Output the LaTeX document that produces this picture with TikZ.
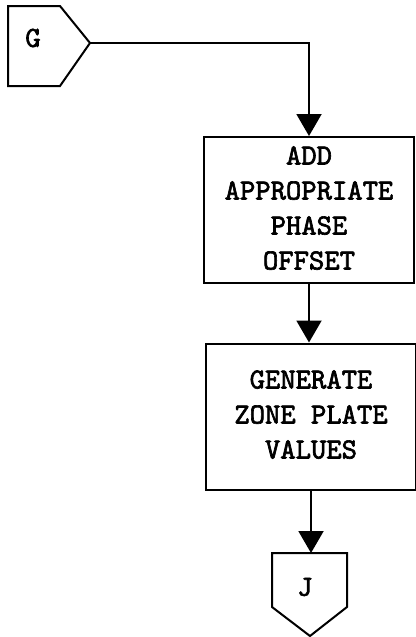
\documentclass[tikz,border=0pt]{standalone}
\usepackage{fontspec}
\newfontfamily\flowtt[FakeBold=2.2]{lmmono10-regular.otf}
\usetikzlibrary{arrows.meta}
\tikzset{
  flowbox/.style={draw,line width=1pt,minimum width=105pt,minimum height=73pt,inner sep=0pt,
    font=\fontsize{14.6}{17.5}\selectfont\flowtt},
  flowarrow/.style={line width=1pt,-{Triangle[width=12.5pt,length=11pt]}},
  pagelink/.style={line width=1pt,line join=miter},
  linklabel/.style={font=\fontsize{14.6}{17.5}\selectfont\flowtt}
}
\begin{document}
\begin{tikzpicture}[x=0.5pt,y=-0.5pt]
\useasboundingbox (0,0) rectangle (416,637);

% entry connector G
\draw[pagelink] (8,6) -- (60,6) -- (90,43) coordinate (gtip) -- (60,86) -- (8,86) -- cycle;
\node[linklabel] (g) at (33,38) {G};

% processing steps
\node[flowbox] (add) at (309,210)
  {\begin{tabular}{@{}c@{}}ADD\\APPROPRIATE\\PHASE\\OFFSET\end{tabular}\hspace{21pt}};
\node[flowbox] (gen) at (311,416.5)
  {\begin{tabular}{@{}c@{}}GENERATE\\ZONE PLATE\\VALUES\end{tabular}\hspace{11pt}};

% exit connector J
\draw[pagelink] (272,553) coordinate (jtop) -- (347,553) -- (347,607) -- (310,636) -- (272,607) -- cycle;
\coordinate (jin) at (310,553);
\node[linklabel] (j) at (305,587) {J};

\draw[flowarrow] (gtip) -| (add.north);
\draw[flowarrow] (add.south) -- (add.south |- gen.north);
\draw[flowarrow] (gen.south) -- (gen.south |- jin);
\end{tikzpicture}
\end{document}
